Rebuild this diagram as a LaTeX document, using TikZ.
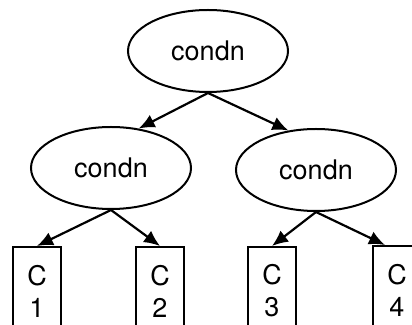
\documentclass[tikz,border=0pt]{standalone}
\usepackage{fontspec}
\setmainfont{TeX Gyre Heros}
\usetikzlibrary{shapes.geometric,
	arrows.meta}
\tikzstyle{cond}=[draw, ellipse, line width=1pt, minimum width=80pt, minimum height=41pt, inner sep=0]
\tikzstyle{leaf}=[draw, line width=1pt, minimum width=24pt, minimum height=44pt, inner sep=0, align=center]
\tikzstyle{arr}=[line width=1.1pt, -{Latex[length=8pt,width=7pt]}]

\begin{document}
\begin{tikzpicture}[x=0.5pt, y=-0.5pt, font=\fontsize{13.5}{16}\selectfont]
                \useasboundingbox (0,0) rectangle (412,325);
                \node[cond] (root) at (208,51) {condn};
                \node[cond] (l) at (111,168) {condn};
                \node[cond] (r) at (316,170) {condn};
                \node[leaf] (c1) at (37,291) {C\\1};
                \node[leaf] (c2) at (160,291) {C\\2};
                \node[leaf] (c3) at (272,291) {C\\3};
                \node[leaf] (c4) at (397,290) {C\\4};
                \draw[arr] (root.south) -- (l.55);
                \draw[arr] (root.south) -- (r.125);
                \draw[arr] (l.south) -- (c1.north);
                \draw[arr] (l.south) -- (c2.north);
                \draw[arr] (r.south) -- (c3.north);
                \draw[arr] (r.south) -- ([xshift=-6]c4.north);
            \end{tikzpicture}
\end{document}
